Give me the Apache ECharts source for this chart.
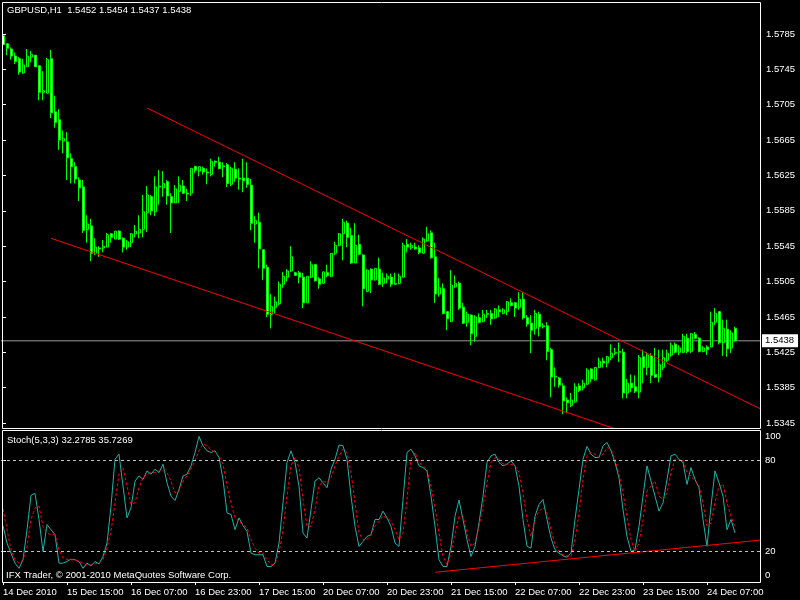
<!DOCTYPE html>
<html><head><meta charset="utf-8">
<script src="https://cdn.jsdelivr.net/npm/echarts@6/dist/echarts.min.js"></script>
<style>html,body{margin:0;padding:0;background:#000}#c{width:800px;height:600px}</style>
</head><body><div id="c"></div>
<script>
const symbolName = 'GBPUSD,H1';
const stochName = 'Stoch(5,3,3)';
const copyrightText = 'IFX Trader, \u00a9 2001-2010 MetaQuotes Software Corp.';
const timeLabels = ['14 Dec 2010','15 Dec 15:00','16 Dec 07:00','16 Dec 23:00','17 Dec 15:00','20 Dec 07:00','20 Dec 23:00','21 Dec 15:00','22 Dec 07:00','22 Dec 23:00','23 Dec 15:00','24 Dec 07:00'];
const barsPerLabel = 16;
const totalSlots = 190;
const priceTicks = [1.5345,1.5385,1.5425,1.5465,1.5505,1.5545,1.5585,1.5625,1.5665,1.5705,1.5745,1.5785];
const stochLevels = [0,20,80,100];

const openP = [1.5783,1.5774,1.5768,1.5760,1.5757,1.5741,1.5748,1.5759,1.5761,1.5749,
1.5719,1.5718,1.5757,1.5697,1.5688,1.5664,1.5663,1.5644,1.5635,1.5620,
1.5612,1.5564,1.5568,1.5537,1.5543,1.5543,1.5544,1.5559,1.5553,1.5562,
1.5554,1.5544,1.5549,1.5559,1.5560,1.5564,1.5583,1.5601,1.5584,1.5612,
1.5611,1.5618,1.5601,1.5594,1.5607,1.5613,1.5605,1.5605,1.5635,1.5630,
1.5633,1.5629,1.5626,1.5641,1.5640,1.5635,1.5637,1.5615,1.5632,1.5622,
1.5622,1.5622,1.5614,1.5570,1.5572,1.5541,1.5521,1.5468,1.5476,1.5480,
1.5502,1.5510,1.5517,1.5515,1.5515,1.5510,1.5481,1.5510,1.5524,1.5508,
1.5503,1.5515,1.5511,1.5537,1.5546,1.5559,1.5571,1.5557,1.5526,1.5547,
1.5535,1.5494,1.5519,1.5507,1.5519,1.5503,1.5508,1.5510,1.5502,1.5503,
1.5510,1.5547,1.5543,1.5544,1.5543,1.5537,1.5551,1.5560,1.5533,1.5491,
1.5497,1.5471,1.5460,1.5499,1.5503,1.5476,1.5459,1.5467,1.5443,1.5464,
1.5460,1.5468,1.5469,1.5464,1.5473,1.5469,1.5471,1.5481,1.5481,1.5476,
1.5485,1.5464,1.5458,1.5452,1.5468,1.5454,1.5455,1.5428,1.5397,1.5396,
1.5387,1.5371,1.5365,1.5369,1.5387,1.5385,1.5389,1.5406,1.5394,1.5408,
1.5415,1.5413,1.5419,1.5424,1.5425,1.5425,1.5379,1.5390,1.5386,1.5380,
1.5420,1.5408,1.5421,1.5400,1.5397,1.5408,1.5416,1.5422,1.5434,1.5425,
1.5425,1.5441,1.5426,1.5445,1.5441,1.5426,1.5431,1.5431,1.5459,1.5471,
1.5436,1.5451,1.5430,1.5452];

const highP = [1.5788,1.5774,1.5770,1.5764,1.5759,1.5757,1.5768,1.5766,1.5761,1.5749,
1.5743,1.5758,1.5767,1.5715,1.5700,1.5676,1.5674,1.5650,1.5640,1.5623,
1.5620,1.5580,1.5576,1.5554,1.5545,1.5552,1.5560,1.5560,1.5562,1.5563,
1.5555,1.5552,1.5560,1.5569,1.5580,1.5603,1.5613,1.5603,1.5624,1.5631,
1.5630,1.5620,1.5605,1.5614,1.5624,1.5620,1.5610,1.5633,1.5636,1.5635,
1.5635,1.5633,1.5644,1.5642,1.5646,1.5640,1.5639,1.5635,1.5640,1.5633,
1.5644,1.5640,1.5621,1.5579,1.5583,1.5541,1.5524,1.5491,1.5488,1.5505,
1.5516,1.5519,1.5545,1.5516,1.5517,1.5515,1.5511,1.5528,1.5525,1.5510,
1.5516,1.5524,1.5537,1.5550,1.5560,1.5576,1.5574,1.5566,1.5571,1.5558,
1.5536,1.5519,1.5520,1.5520,1.5532,1.5515,1.5514,1.5514,1.5515,1.5514,
1.5549,1.5553,1.5549,1.5549,1.5546,1.5555,1.5567,1.5563,1.5549,1.5509,
1.5503,1.5471,1.5518,1.5512,1.5505,1.5481,1.5471,1.5468,1.5467,1.5469,
1.5473,1.5473,1.5473,1.5475,1.5478,1.5475,1.5483,1.5486,1.5482,1.5493,
1.5493,1.5467,1.5467,1.5473,1.5471,1.5458,1.5459,1.5430,1.5408,1.5397,
1.5390,1.5374,1.5379,1.5390,1.5390,1.5394,1.5407,1.5407,1.5408,1.5419,
1.5419,1.5421,1.5434,1.5430,1.5436,1.5429,1.5395,1.5400,1.5399,1.5422,
1.5428,1.5425,1.5424,1.5430,1.5428,1.5428,1.5428,1.5436,1.5436,1.5433,
1.5446,1.5446,1.5447,1.5448,1.5442,1.5432,1.5433,1.5471,1.5475,1.5471,
1.5462,1.5462,1.5450,1.5454];

const lowP = [1.5773,1.5761,1.5756,1.5751,1.5739,1.5740,1.5748,1.5753,1.5748,1.5710,
1.5710,1.5718,1.5690,1.5679,1.5654,1.5650,1.5620,1.5616,1.5616,1.5596,
1.5560,1.5549,1.5528,1.5535,1.5533,1.5538,1.5544,1.5549,1.5553,1.5552,
1.5538,1.5541,1.5544,1.5555,1.5554,1.5555,1.5561,1.5580,1.5579,1.5592,
1.5601,1.5592,1.5560,1.5594,1.5594,1.5604,1.5596,1.5602,1.5628,1.5624,
1.5626,1.5615,1.5624,1.5635,1.5632,1.5623,1.5612,1.5613,1.5618,1.5609,
1.5606,1.5611,1.5563,1.5549,1.5520,1.5507,1.5465,1.5452,1.5469,1.5478,
1.5498,1.5505,1.5516,1.5512,1.5503,1.5475,1.5481,1.5509,1.5505,1.5497,
1.5503,1.5510,1.5510,1.5535,1.5545,1.5529,1.5544,1.5525,1.5526,1.5535,
1.5477,1.5493,1.5492,1.5506,1.5501,1.5499,1.5503,1.5499,1.5501,1.5502,
1.5510,1.5538,1.5541,1.5541,1.5536,1.5537,1.5550,1.5531,1.5481,1.5488,
1.5468,1.5450,1.5459,1.5498,1.5473,1.5457,1.5454,1.5433,1.5437,1.5458,
1.5459,1.5464,1.5456,1.5463,1.5465,1.5468,1.5467,1.5477,1.5465,1.5473,
1.5462,1.5454,1.5424,1.5445,1.5443,1.5452,1.5416,1.5374,1.5386,1.5385,
1.5355,1.5356,1.5363,1.5368,1.5380,1.5382,1.5388,1.5391,1.5393,1.5407,
1.5408,1.5408,1.5416,1.5422,1.5414,1.5373,1.5373,1.5380,1.5379,1.5373,
1.5390,1.5399,1.5390,1.5396,1.5391,1.5405,1.5414,1.5420,1.5424,1.5422,
1.5424,1.5424,1.5424,1.5440,1.5425,1.5425,1.5422,1.5431,1.5456,1.5434,
1.5421,1.5420,1.5424,1.5437];

const closeP = [1.5773,1.5769,1.5760,1.5754,1.5742,1.5750,1.5760,1.5762,1.5748,1.5719,
1.5721,1.5756,1.5696,1.5685,1.5665,1.5667,1.5645,1.5635,1.5621,1.5611,
1.5563,1.5570,1.5537,1.5544,1.5542,1.5545,1.5558,1.5555,1.5562,1.5553,
1.5544,1.5550,1.5559,1.5562,1.5564,1.5584,1.5603,1.5585,1.5612,1.5613,
1.5616,1.5602,1.5594,1.5610,1.5614,1.5605,1.5604,1.5633,1.5631,1.5635,
1.5629,1.5628,1.5641,1.5640,1.5633,1.5636,1.5616,1.5633,1.5622,1.5621,
1.5619,1.5615,1.5571,1.5574,1.5542,1.5520,1.5468,1.5477,1.5482,1.5502,
1.5511,1.5517,1.5533,1.5512,1.5510,1.5481,1.5511,1.5524,1.5506,1.5502,
1.5516,1.5512,1.5537,1.5546,1.5559,1.5572,1.5555,1.5526,1.5546,1.5536,
1.5497,1.5518,1.5507,1.5520,1.5502,1.5509,1.5511,1.5502,1.5503,1.5511,
1.5546,1.5544,1.5546,1.5542,1.5538,1.5553,1.5559,1.5532,1.5491,1.5498,
1.5469,1.5463,1.5501,1.5503,1.5475,1.5458,1.5468,1.5446,1.5465,1.5459,
1.5468,1.5469,1.5463,1.5474,1.5471,1.5473,1.5482,1.5478,1.5475,1.5485,
1.5464,1.5457,1.5450,1.5469,1.5454,1.5455,1.5426,1.5397,1.5398,1.5388,
1.5370,1.5368,1.5371,1.5386,1.5382,1.5390,1.5405,1.5395,1.5408,1.5415,
1.5413,1.5420,1.5424,1.5425,1.5426,1.5379,1.5390,1.5385,1.5381,1.5419,
1.5408,1.5422,1.5399,1.5397,1.5411,1.5419,1.5424,1.5433,1.5425,1.5430,
1.5443,1.5426,1.5446,1.5441,1.5426,1.5430,1.5428,1.5459,1.5469,1.5436,
1.5452,1.5429,1.5447,1.5438];

const stochK = [37.1,25.6,19.0,12.4,9.0,14.6,34.4,57.0,58.3,41.1,
20.1,37.8,34.4,31.1,12.4,12.4,13.5,15.0,14.6,13.5,
9.0,12.4,10.6,13.5,11.9,16.8,25.6,49.9,80.8,84.1,
63.1,42.2,48.8,66.4,69.8,67.5,73.1,70.9,74.2,72.0,
77.5,65.3,56.5,53.6,60.9,69.8,70.9,76.4,85.2,95.8,
89.6,86.3,85.2,86.3,81.9,67.5,45.5,44.4,34.4,42.2,
37.1,33.3,19.0,17.9,17.9,17.9,10.2,10.2,12.4,25.6,
52.1,78.6,86.3,78.6,63.1,32.2,28.9,47.7,66.4,68.6,
65.3,62.0,74.2,80.8,90.1,89.6,80.8,56.5,36.6,23.4,
26.7,30.0,31.1,41.1,41.1,46.6,42.2,36.6,25.6,23.4,
54.3,85.2,87.4,83.0,76.4,75.3,73.1,56.5,36.6,14.6,
10.2,10.2,23.4,43.3,53.9,41.1,27.8,16.8,23.4,38.8,
56.5,78.6,83.0,84.1,78.6,76.4,77.5,79.7,76.4,63.1,
41.1,23.4,22.3,43.3,51.0,54.3,41.1,28.9,21.2,19.0,
17.2,16.3,19.0,41.1,60.9,80.8,89.2,84.1,81.9,81.9,
89.6,91.8,86.3,78.6,68.6,47.7,30.0,20.1,21.2,36.6,
56.5,76.4,66.4,56.5,46.6,52.1,67.5,83.0,84.1,80.8,
78.6,64.2,75.3,67.5,62.0,41.1,23.4,49.9,73.1,65.3,
56.5,34.4,41.1,32.2785];

const stochD = [48.1,34.4,21.2,14.6,12.4,14.6,23.4,41.1,48.8,49.9,
36.6,32.2,31.1,31.1,21.2,15.7,15.0,14.6,14.6,13.5,
12.4,11.3,11.3,11.9,12.4,14.6,22.3,33.3,52.1,70.9,
75.3,63.1,51.0,52.1,62.0,68.6,70.9,72.0,72.0,73.1,
73.1,72.0,66.4,58.7,59.8,66.4,69.8,74.2,79.7,86.3,
90.7,89.6,87.0,85.2,83.0,77.5,63.1,52.1,42.2,40.0,
37.8,35.5,27.8,22.3,19.0,19.0,14.6,11.3,11.9,19.0,
34.4,56.5,76.4,81.9,75.3,54.3,36.6,36.6,47.7,63.1,
66.4,65.3,68.6,76.4,83.0,87.4,85.2,72.0,52.1,32.2,
27.8,27.8,31.1,36.6,40.0,43.3,42.2,40.0,34.4,27.8,
32.2,54.3,80.8,85.2,78.6,76.4,74.2,63.1,48.8,32.2,
16.8,11.3,19.0,32.2,43.3,43.3,32.2,23.4,25.6,36.6,
49.9,65.3,78.6,81.9,80.8,77.5,77.5,77.5,76.4,72.0,
58.7,41.1,30.0,41.1,46.6,48.8,45.5,34.4,24.5,20.1,
17.9,17.2,16.8,27.8,45.5,67.5,83.0,85.2,84.1,81.9,
84.1,88.5,87.4,80.8,70.9,58.7,43.3,27.8,20.1,25.6,
41.1,59.8,63.1,66.4,56.5,54.3,58.7,72.0,80.8,80.8,
79.7,72.0,69.8,66.4,63.1,52.1,36.6,38.8,52.1,63.1,
64.2,52.1,43.3,35.7269];

// trend lines: [bar index, value]
const upperTrend = [[36, 1.57013], [189.5, 1.53607]];
const lowerTrend = [[12, 1.55539], [160, 1.53279]];
const stochTrend = [[108, 6.4], [189.5, 27.6]];

const priceMin = 1.53394, priceMax = 1.58212;
const n = openP.length;
const cats = [];
for (let i = 0; i < totalSlots; i++) cats.push(String(i));
const ohlc = [];
for (let i = 0; i < n; i++) ohlc.push([openP[i], closeP[i], lowP[i], highP[i]]);
const last = n - 1;
const lastClose = closeP[last];
const bidLine = [[-0.5, lastClose], [totalSlots - 0.5, lastClose]];
const headerText = symbolName + '  ' + [openP[last], highP[last], lowP[last], closeP[last]].map(v => v.toFixed(4)).join(' ');
const stochText = stochName + ' ' + stochK[last].toFixed(4) + ' ' + stochD[last].toFixed(4);

const FONT = '"Liberation Sans", Arial, sans-serif';
const FS = 9.5;
const GREEN = '#00ff00';

const chart = echarts.init(document.getElementById('c'), null, {renderer: 'canvas'});
chart.setOption({
  backgroundColor: '#000',
  animation: false,
  textStyle: {fontFamily: FONT},
  grid: [
    {left: 1, top: 2, width: 760, height: 426},
    {left: 1, top: 430, width: 760, height: 152}
  ],
  xAxis: [
    {type: 'category', gridIndex: 0, data: cats, show: false},
    {type: 'category', gridIndex: 1, data: cats,
      axisLine: {show: false},
      axisTick: {show: true, alignWithLabel: true, length: 3, lineStyle: {color: '#fff'},
        interval: i => i % barsPerLabel === 0 && i / barsPerLabel < timeLabels.length},
      axisLabel: {show: true, color: '#fff', fontSize: FS, fontFamily: FONT, align: 'left', margin: 5,
        interval: i => i % barsPerLabel === 0 && i / barsPerLabel < timeLabels.length,
        formatter: (v, i) => timeLabels[i / barsPerLabel] || ''},
      splitLine: {show: false}},
    {type: 'value', gridIndex: 0, min: -0.5, max: totalSlots - 0.5, show: false},
    {type: 'value', gridIndex: 1, min: -0.5, max: totalSlots - 0.5, show: false}
  ],
  yAxis: [
    {type: 'value', gridIndex: 0, position: 'right', min: priceMin, max: priceMax,
      axisLine: {show: false}, splitLine: {show: false},
      axisTick: {show: true, length: 3, lineStyle: {color: '#fff'}, customValues: priceTicks},
      axisLabel: {show: true, color: '#fff', fontSize: FS, fontFamily: FONT, margin: 5,
        customValues: priceTicks, formatter: v => v.toFixed(4)}},
    {type: 'value', gridIndex: 1, position: 'right', min: 0, max: 100,
      axisLine: {show: false}, splitLine: {show: false},
      axisTick: {show: true, length: 3, lineStyle: {color: '#fff'}, customValues: stochLevels},
      axisLabel: {show: true, color: '#fff', fontSize: FS, fontFamily: FONT, margin: 4,
        customValues: stochLevels,
        formatter: v => v === 100 ? '{t|100}' : v === 0 ? '{b|0}' : String(v),
        rich: {t: {padding: [13, 0, 0, 0], color: '#fff', fontSize: FS, fontFamily: FONT},
               b: {padding: [0, 0, 13, 0], color: '#fff', fontSize: FS, fontFamily: FONT}}}}
  ],
  series: [
    {type: 'line', xAxisIndex: 2, yAxisIndex: 0, data: bidLine, showSymbol: false, symbol: 'none',
      lineStyle: {color: '#9a9a9a', width: 1}, clip: false, z: 1,
      endLabel: {show: true, distance: 1, formatter: lastClose.toFixed(4),
        color: '#000', backgroundColor: '#fff', padding: [2, 4, 1, 3], fontSize: FS, fontFamily: FONT}},
    {type: 'candlestick', xAxisIndex: 0, yAxisIndex: 0, data: ohlc, barWidth: 2.5, z: 3,
      itemStyle: {color: '#000', color0: '#fff', borderColor: GREEN, borderColor0: GREEN, borderColorDoji: GREEN, borderWidth: 1}},
    {type: 'line', xAxisIndex: 2, yAxisIndex: 0, data: upperTrend, showSymbol: false, symbol: 'none',
      lineStyle: {color: '#ff0000', width: 1}, clip: true, z: 4},
    {type: 'line', xAxisIndex: 2, yAxisIndex: 0, data: lowerTrend, showSymbol: false, symbol: 'none',
      lineStyle: {color: '#ff0000', width: 1}, clip: true, z: 4},
    {type: 'line', xAxisIndex: 1, yAxisIndex: 1, data: stochK, showSymbol: false, symbol: 'none',
      lineStyle: {color: '#20b2aa', width: 1},
      markLine: {silent: true, symbol: 'none', animation: false, label: {show: false},
        data: [{yAxis: 80}, {yAxis: 20}],
        lineStyle: {color: '#c0c0c0', width: 1, type: [3, 3]}}},
    {type: 'line', xAxisIndex: 1, yAxisIndex: 1, data: stochD, showSymbol: false, symbol: 'none',
      lineStyle: {color: '#ff0000', width: 1, type: [3, 2]}},
    {type: 'line', xAxisIndex: 3, yAxisIndex: 1, data: stochTrend, showSymbol: false, symbol: 'none',
      lineStyle: {color: '#ff0000', width: 1}, clip: true}
  ],
  graphic: [
    {type: 'rect', silent: true, z: 100, shape: {x: 2.5, y: 2.5, width: 758, height: 426},
      style: {fill: 'none', stroke: '#fff', lineWidth: 1}},
    {type: 'rect', silent: true, z: 100, shape: {x: 2.5, y: 430.5, width: 758, height: 152},
      style: {fill: 'none', stroke: '#fff', lineWidth: 1}},
    {type: 'text', left: 7, top: 5, z: 101, silent: true,
      style: {text: headerText, fill: '#fff', font: FS + 'px ' + FONT}},
    {type: 'text', left: 7, top: 435, z: 101, silent: true,
      style: {text: stochText, fill: '#fff', font: FS + 'px ' + FONT}},
    {type: 'text', left: 6, top: 570, z: 101, silent: true,
      style: {text: copyrightText, fill: '#fff', font: FS + 'px ' + FONT}}
  ]
});
</script></body></html>
